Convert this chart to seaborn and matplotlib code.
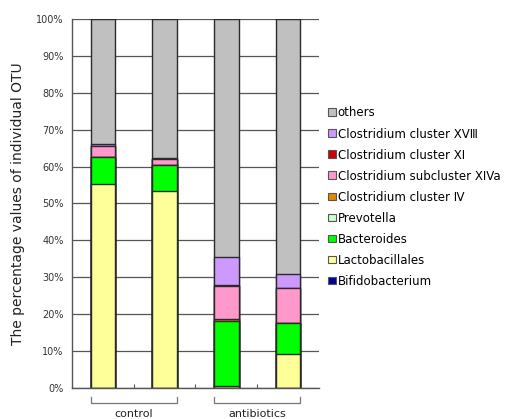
import matplotlib
matplotlib.use('Agg')
import matplotlib.pyplot as plt
import matplotlib.transforms as mtransforms
import pandas as pd
import seaborn as sns
import numpy as np

# Data (percent of individual OTU)
samples = ['c1', 'c2', 'a1', 'a2']
groups = ['control', 'antibiotics']
taxa = ['Bifidobacterium', 'Lactobacillales', 'Bacteroides', 'Prevotella',
        'Clostridium cluster \u2163', 'Clostridium subcluster XIVa',
        'Clostridium cluster XI', 'Clostridium cluster XV\u2162', 'others']
bifido = [0.0, 0.0, 0.0, 0.0]
lacto = [55.3, 53.4, 0.5, 9.1]
bactero = [7.2, 7.1, 17.6, 8.5]
prevo = [0.0, 0.0, 0.0, 0.0]
clos_iv = [0.0, 0.0, 0.6, 0.0]
clos_xiva = [3.1, 1.4, 8.8, 9.5]
clos_xi = [0.0, 0.0, 0.3, 0.0]
clos_xviii = [0.6, 0.4, 7.6, 3.9]
colors = ['#000099', '#FFFF99', '#00FF00', '#CCFFCC', '#E08A00',
          '#FF99CC', '#CC0000', '#CC99FF', '#C0C0C0']

values = [bifido, lacto, bactero, prevo, clos_iv, clos_xiva, clos_xi, clos_xviii]
vals = np.array(values)
others = 100 - vals.sum(axis=0)
vals = np.vstack([vals, others])

df = pd.DataFrame(vals.T, columns=taxa)
df['sample'] = samples
cum = df[taxa].cumsum(axis=1)
cum['sample'] = samples

fig = plt.figure(figsize=(5.07, 4.19), dpi=100)
ax = fig.add_axes([0.142, 0.074, 0.487, 0.881])

# draw cumulative bars from top layer down so they stack
for name, col in reversed(list(zip(taxa, colors))):
    sns.barplot(data=cum, x='sample', y=name, color=col, ax=ax, width=0.4,
                edgecolor='#2a2a2a', linewidth=1.0, saturation=1, label=name,
                order=samples)

ax.set_ylim(0, 100)
ax.set_xlim(-0.5, 3.5)
ax.set_yticks(np.arange(0, 101, 10))
ax.set_yticklabels([f'{v}%' for v in range(0, 101, 10)], fontsize=7, color='#333333')
ax.tick_params(axis='y', length=0, pad=6)
ax.yaxis.grid(True, color='#555555', linewidth=0.9)
ax.set_axisbelow(True)
ax.set_xticks([0.5, 1.5, 2.5])
ax.set_xticklabels([])
ax.tick_params(axis='x', direction='in', length=3, color='#555555')
ax.set_xlabel('')
ax.set_ylabel('The percentage values of individual OTU', fontsize=10, color='#222222', labelpad=8)
for s in ['top', 'right']:
    ax.spines[s].set_visible(False)
for s in ['left', 'bottom']:
    ax.spines[s].set_color('#555555')
    ax.spines[s].set_linewidth(1)

# group brackets below the axis
trans = mtransforms.blended_transform_factory(ax.transData, ax.transAxes)
for i, g in enumerate(groups):
    x0, x1 = 2 * i - 0.2, 2 * i + 1.2
    ax.plot([x0, x0, x1, x1], [-0.025, -0.04, -0.04, -0.025], color='#777777',
            linewidth=0.9, transform=trans, clip_on=False)
    ax.text(2 * i + 0.5, -0.07, g, transform=trans, ha='center', va='center',
            fontsize=8, color='#222222')

handles, labels = ax.get_legend_handles_labels()
leg = ax.legend(handles, labels, loc='upper left', bbox_to_anchor=(1.005, 0.785),
                frameon=False, fontsize=8.5, handlelength=0.65, handleheight=0.65,
                handletextpad=0.15, labelspacing=0.68, borderaxespad=0.3)
for h in leg.legend_handles:
    h.set_edgecolor('#555555')
    h.set_linewidth(0.8)

fig.savefig('out.png', dpi=100)
